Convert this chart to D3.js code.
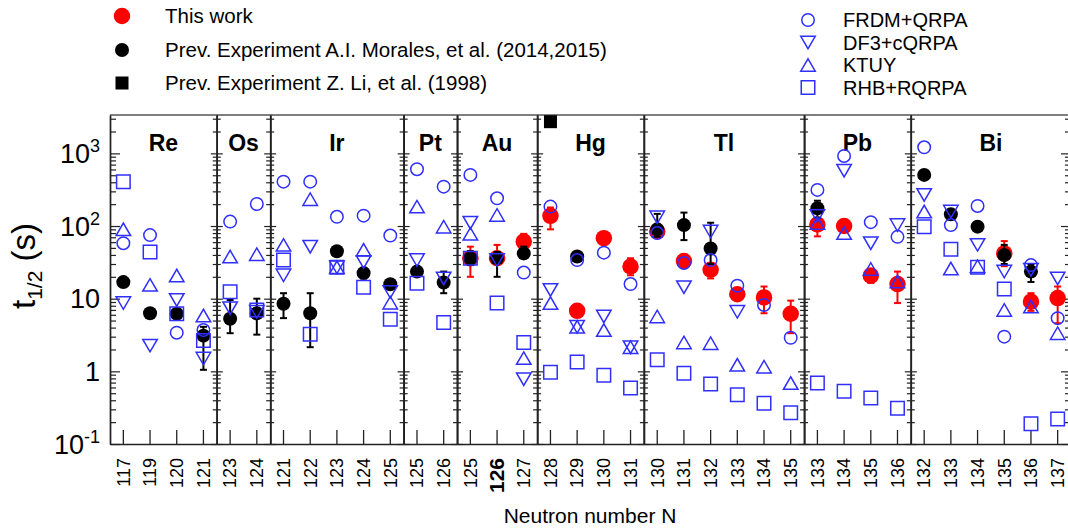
<!DOCTYPE html>
<html>
<head>
<meta charset="utf-8">
<script src="https://cdn.jsdelivr.net/npm/d3@7"></script>
<style>
body { margin: 0; background: #fff; }
svg { font-family: "Liberation Sans", Arial, sans-serif; }
</style>
</head>
<body>
<div class="container"></div>
<script>
const WIDTH = 1068, HEIGHT = 529;
const LEFT = 110, RIGHT = 1071, TOP = 115, BOTTOM = 444;
const BLUE = '#2f2fff';

const elements = ['Re', 'Os', 'Ir', 'Pt', 'Au', 'Hg', 'Tl', 'Pb', 'Bi'];
const neutrons = [
    [117, 119, 120, 121],
    [123, 124],
    [121, 122, 123, 124, 125],
    [125, 126],
    [125, 126, 127],
    [128, 129, 130, 131],
    [130, 131, 132, 133, 134, 135],
    [133, 134, 135, 136],
    [132, 133, 134, 135, 136, 137]
];
const yTicksMajor = [0.1, 1, 10, 100, 1000];
const yTickLabels = [['10', '-1'], ['1', ''], ['10', ''], ['10', '2'], ['10', '3']];

// theory, one value per isotope (Re | Os | Ir | Pt | Au | Hg | Tl | Pb | Bi)
const frdm = [
    58, 75, 3.4, 3.7,
    115, 201,
    408, 408, 134, 139, 74,
    605, 348,
    505, 241, 22.9,
    185, 34, 43, 15.9,
    80, 31, 34, 15.1, 8.2, 2.9,
    314, 921, 113, 71,
    1213, 103, 189, 3.0, 29, 5.4
];
const df3 = [
    8.7, 2.26, 9.6, 1.5,
    7.4, 6.6,
    21, 52, 27, 32, 12.4,
    34, 19,
    111, 34, 0.78,
    13.2, 4.1, 5.7, 2.15,
    132, 14.4, 84, 6.6, null, null,
    137, 578, 58, 103,
    268, 158, 55, 23.6, 25, 19
];
const ktuy = [
    90, 15.5, 20.8, 5.86,
    38, 41,
    55, 234, 27, 47, 8.8,
    185, 98,
    78, 142, 1.52,
    8.7, 4.1, 3.7, 2.15,
    5.7, 2.5, 2.44, 1.23, 1.16, 0.69,
    110, 80, 25.7, 17.2,
    158, 26, 28, 7.0, 7.8, 3.35
];
const rhb = [
    408, 44, 6.2, 2.65,
    12.5, 7.0,
    34, 3.25, 27, 14.4, 5.2,
    16.3, 4.7,
    36, 8.7, 2.5,
    0.97, 1.34, 0.88, 0.59,
    1.44, 0.94, 0.67, 0.475, 0.365, 0.27,
    0.69, 0.53, 0.43, 0.31,
    98, 48, 27, 13.6, 0.19, 0.22
];

// experiments
const thisWork = [
    null, null, null, null,
    null, null,
    null, null, null, null, null,
    null, null,
    36, 36, 61,
    138, 6.8, 68, 27.7,
    84, 33, 25, 11.5, 10.4, 6.2,
    105, 100, 20.8, 15.9,
    null, null, null, 42, 9.1, 10.2
];
const thisWorkLow = [
    null, null, null, null,
    null, null,
    null, null, null, null, null,
    null, null,
    20, 30, 45,
    90, 6, 60, 21,
    71, 29, 19, 10, 6.3, 3.35,
    72, 90, 16.5, 8.7,
    null, null, null, 28, 6.8, 4.6
];
const thisWorkHigh = [
    null, null, null, null,
    null, null,
    null, null, null, null, null,
    null, null,
    52, 55, 78,
    180, 7.6, 76, 36,
    95, 37, 29, 13, 14.7, 9.4,
    120, 112, 25, 23.6,
    null, null, null, 62, 11.9, 14.7
];
const morales = [
    16.9, 6.3, 6.2, 3.1,
    5.3, 6.3,
    8.5, 6.3, 45, 22.5, 15.8,
    23.6, 16.7,
    36, 36, 42,
    null, 38, null, null,
    90, 103, 49, null, null, null,
    176, null, null, null,
    505, 145, 98, 40, 23.6, null
];
const moralesLow = [
    15.5, 5.8, 5.7, 1.05,
    3.35, 3.2,
    5.4, 2.15, 41, 19, 14.5,
    21.5, 11.9,
    29, 20, 36,
    null, 33, null, null,
    71, 64, 30, null, null, null,
    130, null, null, null,
    470, 135, 90, 30, 17, null
];
const moralesHigh = [
    18.5, 6.9, 6.8, 4.1,
    9.6, 10,
    11.9, 11.9, 49, 26, 17,
    25.5, 23.6,
    45, 44, 52,
    null, 43, null, null,
    147, 153, 111, null, null, null,
    223, null, null, null,
    540, 155, 106, 55, 30, null
];
const li1998 = [
    null, null, null, null,
    null, null,
    null, null, null, null, null,
    null, null,
    null, null, null,
    2730, null, null, null,
    null, null, null, null, null, null,
    null, null, null, null,
    null, null, null, null, null, null
];

var translate = function(x, y) {
    return `translate(${x},${y})`;
};

// marker paths, centred on their bounding box
var shapes = {
    circle: (s) => d3.symbol(d3.symbolCircle, Math.PI * s * s / 4)(),
    square: (s) => `M${-s / 2},${-s / 2}h${s}v${s}h${-s}Z`,
    down: (s) => `M${-s / 2},${-s * 0.43}L${s / 2},${-s * 0.43}L0,${s * 0.43}Z`,
    up: (s) => `M${-s / 2},${s * 0.43}L${s / 2},${s * 0.43}L0,${-s * 0.43}Z`
};

var fillLayout = function() {
    var svg = d3.select('.container').append('svg')
        .attr('width', WIDTH)
        .attr('height', HEIGHT);

    var flat = [];
    neutrons.forEach((list, e) => list.forEach((n) => flat.push({ el: e, n: n })));
    var idx = d3.range(flat.length);

    var x = d3.scaleBand().domain(idx).range([LEFT, RIGHT]);
    var y = d3.scaleLog().domain([0.1, Math.pow(10, 3.528)]).range([BOTTOM, TOP]);
    var cx = (i) => x(i) + x.bandwidth() / 2;

    var allTicks = y.ticks().filter((t) => t >= 0.1);
    var isMajor = (t) => yTicksMajor.some((m) => Math.abs(m - t) / m < 1e-6);
    var minors = allTicks.filter((t) => !isMajor(t));

    var frame = svg.append('g').attr('stroke', '#222').attr('stroke-width', 1.4);

    // left and right axes, ticks inward
    var leftG = svg.append('g').attr('transform', translate(LEFT, 0));
    leftG.call(d3.axisRight(y).tickValues(yTicksMajor).tickSize(10).tickSizeOuter(0).tickFormat(''));
    leftG.call((g) => g.append('g').call(d3.axisRight(y).tickValues(minors).tickSize(6).tickSizeOuter(0).tickFormat('')));
    var rightG = svg.append('g').attr('transform', translate(RIGHT, 0));
    rightG.call(d3.axisLeft(y).tickValues(yTicksMajor).tickSize(10).tickSizeOuter(0).tickFormat(''));
    rightG.call((g) => g.append('g').call(d3.axisLeft(y).tickValues(minors).tickSize(6).tickSizeOuter(0).tickFormat('')));

    // panel dividers with ticks on both sides
    var starts = [];
    var k = 0;
    neutrons.forEach((list) => { starts.push(k); k += list.length; });
    starts.slice(1).forEach((s) => {
        var g = svg.append('g').attr('transform', translate(x(s), 0));
        g.append('g').call(d3.axisLeft(y).tickValues(yTicksMajor).tickSize(6).tickSizeOuter(0).tickFormat(''));
        g.append('g').call(d3.axisRight(y).tickValues(yTicksMajor).tickSize(6).tickSizeOuter(0).tickFormat(''));
        g.append('g').call(d3.axisLeft(y).tickValues(minors).tickSize(4).tickSizeOuter(0).tickFormat(''));
        g.append('g').call(d3.axisRight(y).tickValues(minors).tickSize(4).tickSizeOuter(0).tickFormat(''));
    });
    svg.selectAll('.domain').attr('stroke', '#222').attr('stroke-width', 1.4);
    svg.selectAll('.tick line').attr('stroke', '#222').attr('stroke-width', 1.2);

    frame.append('line').attr('x1', LEFT).attr('x2', RIGHT).attr('y1', TOP).attr('y2', TOP).attr('stroke', '#555');

    // bottom axis
    var xAxis = svg.append('g')
        .attr('transform', translate(0, BOTTOM))
        .call(d3.axisBottom(x).tickSize(-14).tickSizeOuter(0).tickFormat((i) => flat[i].n));
    xAxis.select('.domain').attr('stroke', '#222').attr('stroke-width', 1.6);
    xAxis.selectAll('.tick line').attr('stroke', '#222').attr('stroke-width', 1.3);
    xAxis.selectAll('.tick text')
        .attr('transform', 'rotate(-90)')
        .attr('x', -14).attr('y', 0).attr('dy', '0.35em')
        .attr('text-anchor', 'end')
        .attr('fill', '#000')
        .style('font-size', '18px')
        .style('font-family', '"Liberation Sans", Arial, sans-serif')
        .filter((i) => flat[i].n === 126 && elements[flat[i].el] === 'Au')
        .style('font-weight', 'bold').style('font-size', '21px');

    // y tick labels
    var yl = svg.append('g').attr('font-size', 27).attr('text-anchor', 'end');
    yTicksMajor.forEach((t, i) => {
        var txt = yl.append('text').attr('x', 100).attr('y', y(t)).attr('dy', '0.36em');
        var lab = yTickLabels[i];
        txt.append('tspan').text(lab[0]);
        if (lab[1]) txt.append('tspan').attr('font-size', 18).attr('dy', -11).text(lab[1]);
    });

    // axis titles
    var yt = svg.append('text')
        .attr('transform', translate(35, 266) + ' rotate(-90)')
        .attr('text-anchor', 'middle').attr('font-size', 33);
    yt.append('tspan').text('t');
    yt.append('tspan').attr('font-size', 21).attr('dy', 7).text('1/2');
    yt.append('tspan').attr('dy', -7).text(' (s)');
    svg.append('text').attr('x', 590).attr('y', 523).attr('text-anchor', 'middle')
        .attr('font-size', 21).text('Neutron number N');

    // element labels
    elements.forEach((el, e) => {
        var a = x(starts[e]);
        var b = e + 1 < starts.length ? x(starts[e + 1]) : RIGHT;
        svg.append('text').attr('x', (a + b) / 2).attr('y', 151)
            .attr('text-anchor', 'middle').attr('font-size', 23).attr('font-weight', 'bold')
            .text(el);
    });

    // error bars
    var errorBars = function(vals, lo, hi, color) {
        var g = svg.append('g').attr('stroke', color).attr('stroke-width', 2);
        idx.filter((i) => vals[i] != null).forEach((i) => {
            g.append('line').attr('x1', cx(i)).attr('x2', cx(i)).attr('y1', y(lo[i])).attr('y2', y(hi[i]));
            [lo[i], hi[i]].forEach((v) => g.append('line')
                .attr('x1', cx(i) - 3.5).attr('x2', cx(i) + 3.5).attr('y1', y(v)).attr('y2', y(v)));
        });
    };

    var markers = function(vals, shape, size, fill, stroke) {
        svg.append('g').selectAll('path')
            .data(idx.filter((i) => vals[i] != null))
            .enter().append('path')
            .attr('d', shapes[shape](size))
            .attr('transform', (i) => translate(cx(i), y(vals[i])))
            .attr('fill', fill)
            .attr('stroke', stroke || 'none')
            .attr('stroke-width', 1.5);
    };

    errorBars(thisWork, thisWorkLow, thisWorkHigh, '#f00');
    markers(thisWork, 'circle', 16.5, '#f00');
    errorBars(morales, moralesLow, moralesHigh, '#000');
    markers(morales, 'circle', 14, '#000');
    markers(li1998, 'square', 13, '#000');
    markers(rhb, 'square', 13.5, 'none', BLUE);
    markers(ktuy, 'up', 14.5, 'none', BLUE);
    markers(df3, 'down', 14.5, 'none', BLUE);
    markers(frdm, 'circle', 12.5, 'none', BLUE);

    // legends
    var leg1 = [
        ['circle', 16.5, '#f00', 16, 'This work'],
        ['circle', 14, '#000', 50, 'Prev. Experiment A.I. Morales, et al. (2014,2015)'],
        ['square', 13, '#000', 83, 'Prev. Experiment Z. Li, et al. (1998)']
    ];
    leg1.forEach((d) => {
        svg.append('path').attr('d', shapes[d[0]](d[1])).attr('transform', translate(122, d[3])).attr('fill', d[2]);
        svg.append('text').attr('x', 165).attr('y', d[3] + 7).attr('font-size', 20.5).text(d[4]);
    });
    var leg2 = [
        ['circle', 12.5, 20, 'FRDM+QRPA'],
        ['down', 14.5, 42.5, 'DF3+cQRPA'],
        ['up', 14.5, 65, 'KTUY'],
        ['square', 13.5, 87.5, 'RHB+RQRPA']
    ];
    leg2.forEach((d) => {
        svg.append('path').attr('d', shapes[d[0]](d[1])).attr('transform', translate(808, d[2]))
            .attr('fill', 'none').attr('stroke', BLUE).attr('stroke-width', 1.5);
        svg.append('text').attr('x', 843).attr('y', d[2] + 7).attr('font-size', 20).text(d[3]);
    });
};
window.onload = fillLayout;
</script>
</body>
</html>
